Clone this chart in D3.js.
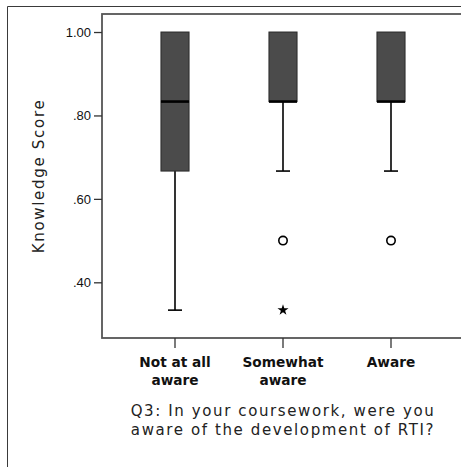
<!DOCTYPE html>
<html>
<head>
<meta charset="utf-8">
<script src="https://cdn.jsdelivr.net/npm/d3@7"></script>
<style>
  html, body { margin: 0; padding: 0; background: #fff; }
  svg { display: block; }
</style>
</head>
<body>
<svg id="chart" width="461" height="467"></svg>
<script>
// Knowledge score distribution by awareness group
const categories = [["Not at all", "aware"], ["Somewhat", "aware"], ["Aware"]];
const whiskerLow  = [0.3333, 0.6667, 0.6667];
const boxLow      = [0.6667, 0.8333, 0.8333];
const medians     = [0.8333, 0.8333, 0.8333];
const boxHigh     = [1.00, 1.00, 1.00];
const whiskerHigh = [1.00, 1.00, 1.00];
// outliers: group index, value, marker kind
const outlierGroup = [1, 1, 2];
const outlierValue = [0.50, 0.3333, 0.50];
const outlierKind  = ["circle", "star", "circle"];
const yTicks = [0.40, 0.60, 0.80, 1.00];
const yTickLabels = [".40", ".60", ".80", "1.00"];
const yTitle = "Knowledge Score";
const xTitleLines = ["Q3: In your coursework, were you", "aware of the development of RTI?"];

const svg = d3.select("#chart");

// letter spacing that makes a string span the wanted width at a given size
function fitSpacing(family, weight, size, sample, width) {
  const t = svg.append("text").attr("font-family", family)
    .attr("font-weight", weight).attr("font-size", size).text(sample);
  const w = t.node().getComputedTextLength();
  t.remove();
  return (width - w) / (sample.length - 1);
}
function fitSize(family, weight, sample, width) {
  const t = svg.append("text").attr("font-family", family)
    .attr("font-weight", weight).attr("font-size", 20).text(sample);
  const w = t.node().getComputedTextLength();
  t.remove();
  return 20 * width / w;
}

const titleFont = "DejaVu Sans, Verdana, sans-serif";
const catFont = "DejaVu Sans, Verdana, sans-serif";
const titleSize = 15;
const titleSpacing = fitSpacing(titleFont, "normal", titleSize, xTitleLines[0], 303);
const yTitleSize = 15;
const yTitleSpacing = fitSpacing(titleFont, "normal", yTitleSize, yTitle, 153);
const catSize = fitSize(catFont, "bold", "Somewhat", 81);

// outer frame
svg.append("path")
  .attr("d", "M7.5,467 L7.5,6.5 L461,6.5")
  .attr("fill", "none").attr("stroke", "#3a3a3a").attr("stroke-width", 1);

const plot = { left: 102, top: 14, right: 470, bottom: 338 };

const y = d3.scaleLinear().domain([0.2665, 1.0432]).range([plot.bottom, plot.top]);
const x = d3.scaleBand().domain(d3.range(categories.length))
  .range([121, 445]).paddingInner(0.74).paddingOuter(0.37);

// plot frame
svg.append("rect")
  .attr("x", plot.left).attr("y", plot.top)
  .attr("width", plot.right - plot.left).attr("height", plot.bottom - plot.top)
  .attr("fill", "none").attr("stroke", "#555").attr("stroke-width", 1.8);

// y axis
const yAxis = d3.axisLeft(y).tickValues(yTicks)
  .tickFormat((d, i) => yTickLabels[i]).tickSize(8).tickPadding(3);
const gy = svg.append("g").attr("transform", `translate(${plot.left},0)`).call(yAxis);
gy.select(".domain").remove();
gy.selectAll("line").attr("stroke", "#333").attr("stroke-width", 1.3);
gy.selectAll("text").attr("font-family", "Liberation Sans, Arial, sans-serif")
  .attr("font-size", 13).attr("fill", "#111");

// x axis ticks
const xAxis = d3.axisBottom(x).tickSize(10).tickFormat("");
const gx = svg.append("g").attr("transform", `translate(0,${plot.bottom})`).call(xAxis);
gx.select(".domain").remove();
gx.selectAll("line").attr("stroke", "#333").attr("stroke-width", 1.3);

// category labels
const catG = svg.append("g");
categories.forEach((lines, i) => {
  const cx = x(i) + x.bandwidth() / 2;
  const t = catG.append("text")
    .attr("x", cx).attr("y", 367)
    .attr("text-anchor", "middle")
    .attr("font-family", catFont)
    .attr("font-weight", "bold").attr("font-size", catSize).attr("fill", "#111");
  lines.forEach((ln, j) => {
    t.append("tspan").attr("x", cx).attr("dy", j ? 18 : 0).text(ln);
  });
});

// boxes
const bw = x.bandwidth();
const boxes = svg.append("g");
categories.forEach((c, i) => {
  const cx = x(i) + bw / 2;
  const g = boxes.append("g");
  g.append("line").attr("x1", cx).attr("x2", cx)
    .attr("y1", y(whiskerLow[i])).attr("y2", y(boxLow[i]))
    .attr("stroke", "#000").attr("stroke-width", 1.6);
  g.append("line").attr("x1", cx).attr("x2", cx)
    .attr("y1", y(whiskerHigh[i])).attr("y2", y(boxHigh[i]))
    .attr("stroke", "#000").attr("stroke-width", 1.6);
  g.append("line").attr("x1", cx - bw / 4).attr("x2", cx + bw / 4)
    .attr("y1", y(whiskerLow[i])).attr("y2", y(whiskerLow[i]))
    .attr("stroke", "#000").attr("stroke-width", 1.6);
  g.append("rect").attr("x", x(i)).attr("y", y(boxHigh[i]))
    .attr("width", bw).attr("height", y(boxLow[i]) - y(boxHigh[i]))
    .attr("fill", "#4b4b4b").attr("stroke", "#2a2a2a").attr("stroke-width", 1);
  g.append("line").attr("x1", x(i)).attr("x2", x(i) + bw)
    .attr("y1", y(medians[i])).attr("y2", y(medians[i]))
    .attr("stroke", "#000").attr("stroke-width", 2.6);
});

// outliers
const star = d3.symbol().type(d3.symbolStar).size(38);
outlierGroup.forEach((gi, k) => {
  const cx = x(gi) + bw / 2, cy = y(outlierValue[k]);
  if (outlierKind[k] === "circle") {
    svg.append("circle").attr("cx", cx).attr("cy", cy).attr("r", 4.2)
      .attr("fill", "#fff").attr("stroke", "#000").attr("stroke-width", 1.6);
  } else {
    svg.append("path").attr("d", star).attr("transform", `translate(${cx},${cy})`)
      .attr("fill", "#000");
  }
});

// y title
svg.append("text")
  .attr("transform", `translate(44,176) rotate(-90)`)
  .attr("text-anchor", "middle")
  .attr("font-family", titleFont).attr("letter-spacing", yTitleSpacing)
  .attr("font-size", yTitleSize).attr("fill", "#222").text(yTitle);

// x title, two lines in one text block
const xt = svg.append("text")
  .attr("x", 283).attr("y", 416)
  .attr("text-anchor", "middle")
  .attr("font-family", titleFont).attr("letter-spacing", titleSpacing)
  .attr("font-size", titleSize).attr("fill", "#222");
xTitleLines.forEach((ln, j) => {
  xt.append("tspan").attr("x", 283).attr("dy", j ? 19 : 0).text(ln);
});
</script>
</body>
</html>
